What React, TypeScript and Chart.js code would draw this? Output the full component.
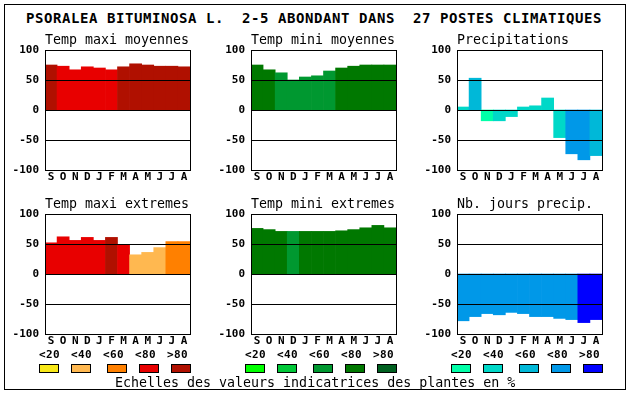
import React, { useEffect, useRef } from "react";
import { Chart, registerables } from "chart.js";

Chart.register(...registerables);

const MAIN_TITLE = "PSORALEA BITUMINOSA L.  2-5 ABONDANT DANS  27 POSTES CLIMATIQUES";
const FOOT_TEXT = "Echelles des valeurs indicatrices des plantes en %";

const MONTHS = ["S", "O", "N", "D", "J", "F", "M", "A", "M", "J", "J", "A"];
const Y_MIN = -100;
const Y_MAX = 100;
const Y_STEP = 50;

// values (% indicator) and colour class index (0:<20 1:<40 2:<60 3:<80 4:>80)
const TEMP_MAXI_MOY = [75, 73, 67, 72, 70, 67, 72, 77, 75, 73, 73, 72];
const TEMP_MAXI_MOY_CLS = [4, 3, 3, 3, 3, 3, 4, 4, 4, 4, 4, 4];
const TEMP_MINI_MOY = [75, 67, 62, 50, 55, 57, 65, 70, 73, 75, 75, 75];
const TEMP_MINI_MOY_CLS = [3, 3, 2, 2, 2, 2, 2, 3, 3, 3, 3, 3];
const PRECIP = [5, 53, -18, -18, -11, 5, 7, 20, -46, -73, -83, -76];
const PRECIP_CLS = [1, 2, 0, 1, 1, 1, 1, 1, 1, 3, 3, 2];
const TEMP_MAXI_EXT = [52, 62, 56, 61, 56, 61, 49, 32, 36, 44, 54, 54];
const TEMP_MAXI_EXT_CLS = [3, 3, 3, 3, 3, 4, 3, 1, 1, 1, 2, 2];
const TEMP_MINI_EXT = [76, 74, 71, 71, 71, 71, 71, 72, 74, 77, 81, 77];
const TEMP_MINI_EXT_CLS = [3, 3, 3, 2, 3, 3, 3, 3, 3, 3, 3, 3];
const JOURS_PRECIP = [-78, -71, -66, -68, -64, -66, -71, -71, -74, -76, -81, -76];
const JOURS_PRECIP_CLS = [3, 3, 3, 3, 3, 3, 3, 3, 3, 3, 4, 4];

const CLASS_LABELS = ["<20", "<40", "<60", "<80", ">80"];
const RED_SCALE = ["#f8e818", "#ffb850", "#ff8000", "#e80000", "#b01000"];
const GREEN_SCALE = ["#00ff00", "#00c838", "#009830", "#007800", "#006020"];
const BLUE_SCALE = ["#00ffa8", "#00d8c8", "#00b8d8", "#0098e8", "#0000ff"];

const MONO = "'DejaVu Sans Mono', monospace";

type PanelDef = {
  title: string;
  values: number[];
  classes: number[];
  palette: string[];
  left: number;
  top: number;
};

const PANELS: PanelDef[] = [
  { title: "Temp maxi moyennes", values: TEMP_MAXI_MOY, classes: TEMP_MAXI_MOY_CLS, palette: RED_SCALE, left: 45, top: 50 },
  { title: "Temp mini moyennes", values: TEMP_MINI_MOY, classes: TEMP_MINI_MOY_CLS, palette: GREEN_SCALE, left: 251, top: 50 },
  { title: "Precipitations", values: PRECIP, classes: PRECIP_CLS, palette: BLUE_SCALE, left: 457, top: 50 },
  { title: "Temp maxi extremes", values: TEMP_MAXI_EXT, classes: TEMP_MAXI_EXT_CLS, palette: RED_SCALE, left: 45, top: 214 },
  { title: "Temp mini extremes", values: TEMP_MINI_EXT, classes: TEMP_MINI_EXT_CLS, palette: GREEN_SCALE, left: 251, top: 214 },
  { title: "Nb. jours precip.", values: JOURS_PRECIP, classes: JOURS_PRECIP_CLS, palette: BLUE_SCALE, left: 457, top: 214 },
];

const AXIS_W = 40;
const PAD_TOP = 16;
const PAD_RIGHT = 4;
const XAXIS_H = 16;
const PLOT_W = 144;
const PLOT_H = 120;

const framePlugin = {
  id: "frameLines",
  afterDatasetsDraw(chart: any) {
    const { ctx, chartArea: a, scales } = chart;
    const y = scales.y;
    ctx.save();
    ctx.fillStyle = "#000";
    for (const v of [50, 0, -50]) {
      const py = Math.round(y.getPixelForValue(v));
      ctx.fillRect(Math.round(a.left), py, Math.round(a.right - a.left), 1);
    }
    ctx.strokeStyle = "#000";
    ctx.lineWidth = 1;
    ctx.strokeRect(
      Math.round(a.left) + 0.5,
      Math.round(a.top) + 0.5,
      Math.round(a.right - a.left),
      Math.round(a.bottom - a.top)
    );
    ctx.restore();
  },
};

function Panel({ def }: { def: PanelDef }) {
  const ref = useRef<HTMLCanvasElement | null>(null);
  useEffect(() => {
    if (!ref.current) return;
    const tickFont = { family: MONO, size: 11, weight: "bold" as const };
    const chart = new Chart(ref.current, {
      type: "bar",
      data: {
        labels: MONTHS,
        datasets: [
          {
            data: def.values,
            backgroundColor: def.classes.map((c) => def.palette[c]),
            borderWidth: 0,
            categoryPercentage: 1,
            barPercentage: 1,
          },
        ],
      },
      options: {
        animation: false,
        responsive: false,
        events: [],
        layout: { padding: { top: PAD_TOP, right: PAD_RIGHT, left: 0, bottom: 0 } },
        plugins: { legend: { display: false }, tooltip: { enabled: false }, title: { display: false } },
        scales: {
          x: {
            type: "category",
            offset: true,
            grid: { display: false, drawTicks: false },
            border: { display: false },
            ticks: { autoSkip: false, maxRotation: 0, minRotation: 0, padding: 1, color: "#000", font: tickFont },
            afterFit: (s: any) => {
              s.height = XAXIS_H;
            },
          },
          y: {
            type: "linear",
            min: Y_MIN,
            max: Y_MAX,
            grid: { display: false, drawTicks: false },
            border: { display: false },
            ticks: { stepSize: Y_STEP, padding: 6, color: "#000", font: tickFont },
            afterFit: (s: any) => {
              s.width = AXIS_W;
            },
          },
        },
      },
      plugins: [framePlugin],
    });
    return () => chart.destroy();
  }, [def]);

  const cw = AXIS_W + PLOT_W + PAD_RIGHT + 1;
  const ch = PAD_TOP + PLOT_H + XAXIS_H;
  return (
    <>
      <canvas
        ref={ref}
        width={cw}
        height={ch}
        style={{ position: "absolute", left: def.left - AXIS_W, top: def.top - PAD_TOP, width: cw, height: ch }}
      />
      <div
        style={{
          position: "absolute",
          left: def.left,
          top: def.top - 17,
          fontFamily: MONO,
          fontSize: "13.3px",
          lineHeight: "14px",
          whiteSpace: "pre",
          color: "#000",
        }}
      >
        {def.title}
      </div>
    </>
  );
}

const LABEL_OFFSETS = [-6, 26, 58, 90, 122];
const BOX_OFFSETS = [-6, 26, 62, 94, 126];

function Legend({ left, palette }: { left: number; palette: string[] }) {
  return (
    <>
      {CLASS_LABELS.map((lab, i) => (
        <div
          key={"l" + i}
          style={{
            position: "absolute",
            left: left + LABEL_OFFSETS[i],
            top: 349,
            fontFamily: MONO,
            fontWeight: "bold",
            fontSize: "11px",
            lineHeight: "12px",
            letterSpacing: "0.4px",
            whiteSpace: "pre",
            color: "#000",
          }}
        >
          {lab}
        </div>
      ))}
      {palette.map((col, i) => (
        <div
          key={"b" + i}
          style={{
            position: "absolute",
            left: left + BOX_OFFSETS[i],
            top: 364,
            width: 20,
            height: 9,
            boxSizing: "border-box",
            border: "1px solid #000",
            background: col,
          }}
        />
      ))}
    </>
  );
}

export default function App() {
  return (
    <div
      style={{
        position: "absolute",
        left: 0,
        top: 0,
        width: 630,
        height: 394,
        background: "#fff",
        overflow: "hidden",
      }}
    >
      <div
        style={{
          position: "absolute",
          left: 4,
          top: 4,
          width: 622,
          height: 386,
          boxSizing: "border-box",
          border: "1px solid #000",
        }}
      />
      <div
        style={{
          position: "absolute",
          left: 26,
          top: 10,
          fontFamily: MONO,
          fontWeight: "bold",
          fontSize: "14px",
          lineHeight: "16px",
          letterSpacing: "0.57px",
          whiteSpace: "pre",
          color: "#000",
        }}
      >
        {MAIN_TITLE}
      </div>
      {PANELS.map((p, i) => (
        <Panel key={i} def={p} />
      ))}
      <Legend left={45} palette={RED_SCALE} />
      <Legend left={251} palette={GREEN_SCALE} />
      <Legend left={457} palette={BLUE_SCALE} />
      <div
        style={{
          position: "absolute",
          left: 115,
          top: 376,
          fontFamily: MONO,
          fontSize: "13.3px",
          lineHeight: "14px",
          whiteSpace: "pre",
          color: "#000",
        }}
      >
        {FOOT_TEXT}
      </div>
    </div>
  );
}
